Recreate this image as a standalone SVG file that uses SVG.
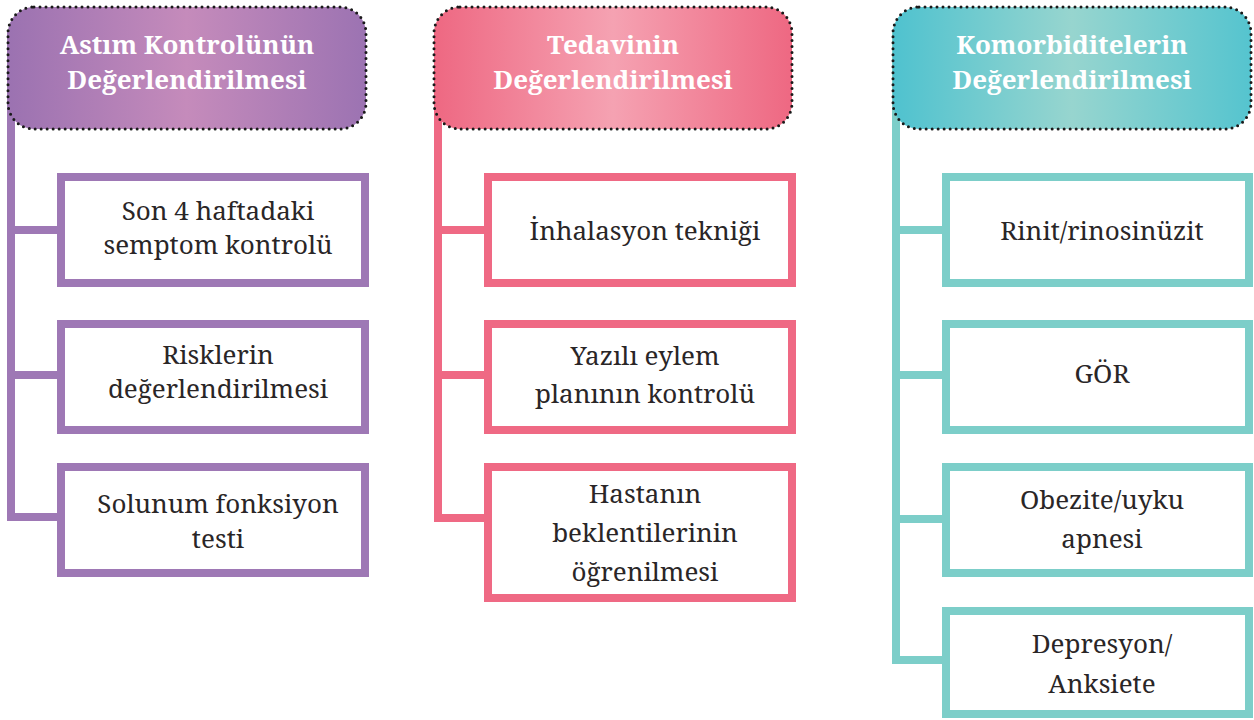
<svg xmlns="http://www.w3.org/2000/svg" width="1254" height="720" viewBox="0 0 1254 720">
<defs>
<linearGradient id="gP" x1="0" x2="1" y1="0" y2="0">
<stop offset="0" stop-color="#9B72B1"/><stop offset="0.5" stop-color="#C58BBB"/><stop offset="1" stop-color="#9C73B2"/>
</linearGradient>
<linearGradient id="gR" x1="0" x2="1" y1="0" y2="0">
<stop offset="0" stop-color="#EE6882"/><stop offset="0.5" stop-color="#F5A2B2"/><stop offset="1" stop-color="#EE6882"/>
</linearGradient>
<linearGradient id="gT" x1="0" x2="1" y1="0" y2="0">
<stop offset="0" stop-color="#4FC2CF"/><stop offset="0.5" stop-color="#97D5CF"/><stop offset="1" stop-color="#55C4CF"/>
</linearGradient>
</defs>
<style>
.hdr{stroke:#1a1a1a;stroke-width:3;stroke-dasharray:0 6;stroke-linecap:round}
.ht{font-family:'Noto Serif','DejaVu Serif',serif;font-weight:bold;font-size:26px;fill:#ffffff;text-anchor:middle}
.bt{font-family:'Noto Serif','DejaVu Serif',serif;font-size:26px;fill:#2A2627;text-anchor:middle}
.box{fill:#ffffff;stroke-width:8}
.p{stroke:#9E78B5}
.r{stroke:#EF6984}
.t{stroke:#7CCEC9}
.ln{fill:none;stroke-width:8;stroke-linejoin:miter}
</style>
<g id="connectors">
<path class="ln p" d="M11,30 V517 H61 M11,230 H61 M11,375 H61"/>
<path class="ln r" d="M438,30 V518 H488 M438,230 H488 M438,375 H488"/>
<path class="ln t" stroke-width="7" d="M896,30 V660 H946 M896,230 H946 M896,375 H946 M896,519 H946"/>
</g>
<g id="h1">
<rect x="8" y="7" width="358" height="122" rx="26" fill="url(#gP)" class="hdr"/>
<text class="ht" x="187" y="54">Astım Kontrolünün</text>
<text class="ht" x="187" y="89">Değerlendirilmesi</text>
</g>
<g id="h2">
<rect x="434" y="7" width="358" height="122" rx="26" fill="url(#gR)" class="hdr"/>
<text class="ht" x="613" y="54">Tedavinin</text>
<text class="ht" x="613" y="89">Değerlendirilmesi</text>
</g>
<g id="h3">
<rect x="893" y="7" width="358" height="122" rx="26" fill="url(#gT)" class="hdr"/>
<text class="ht" x="1072" y="54">Komorbiditelerin</text>
<text class="ht" x="1072" y="89">Değerlendirilmesi</text>
</g>
<g id="p1">
<rect class="box p" x="61" y="177" width="304" height="106"/>
<text class="bt" x="218" y="220">Son 4 haftadaki</text>
<text class="bt" x="218" y="254">semptom kontrolü</text>
</g>
<g id="p2">
<rect class="box p" x="61" y="324" width="304" height="106"/>
<text class="bt" x="218" y="364">Risklerin</text>
<text class="bt" x="218" y="398">değerlendirilmesi</text>
</g>
<g id="p3">
<rect class="box p" x="61" y="467" width="304" height="106"/>
<text class="bt" x="218" y="513">Solunum fonksiyon</text>
<text class="bt" x="218" y="548">testi</text>
</g>
<g id="r1">
<rect class="box r" x="488" y="177" width="304" height="106"/>
<text class="bt" x="645" y="240">İnhalasyon tekniği</text>
</g>
<g id="r2">
<rect class="box r" x="488" y="324" width="304" height="106"/>
<text class="bt" x="645" y="365">Yazılı eylem</text>
<text class="bt" x="645" y="403">planının kontrolü</text>
</g>
<g id="r3">
<rect class="box r" x="488" y="467" width="304" height="131"/>
<text class="bt" x="645" y="503">Hastanın</text>
<text class="bt" x="645" y="542">beklentilerinin</text>
<text class="bt" x="645" y="581">öğrenilmesi</text>
</g>
<g id="t1">
<rect class="box t" x="946" y="177" width="303" height="106"/>
<text class="bt" x="1102" y="240">Rinit/rinosinüzit</text>
</g>
<g id="t2">
<rect class="box t" x="946" y="324" width="303" height="106"/>
<text class="bt" x="1102" y="383">GÖR</text>
</g>
<g id="t3">
<rect class="box t" x="946" y="467" width="303" height="106"/>
<text class="bt" x="1102" y="509">Obezite/uyku</text>
<text class="bt" x="1102" y="548">apnesi</text>
</g>
<g id="t4">
<rect class="box t" x="946" y="611" width="303" height="103"/>
<text class="bt" x="1102" y="653">Depresyon/</text>
<text class="bt" x="1102" y="693">Anksiete</text>
</g>
</svg>
